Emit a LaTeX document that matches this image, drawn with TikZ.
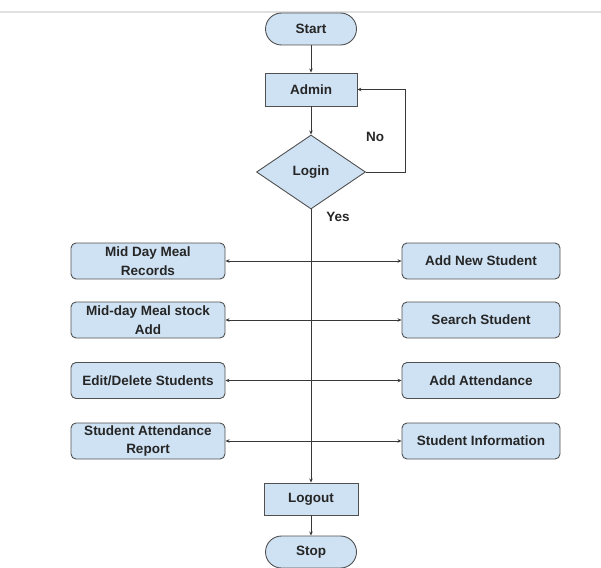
\documentclass[tikz,border=0pt]{standalone}
\usepackage{fontspec}
\setmainfont{Liberation Sans}
\usetikzlibrary{shapes.geometric,arrows.meta}
\definecolor{boxfill}{HTML}{CFE2F3}
\definecolor{boxline}{HTML}{505050}
\definecolor{wire}{HTML}{383838}
\tikzset{
  base/.style={draw=boxline, fill=boxfill, line width=0.9pt, text=black!85,
    font=\bfseries\fontsize{13.5}{18.5}\selectfont, align=center, inner sep=0pt},
  terminal/.style={base, rounded corners=16pt, minimum width=91pt, minimum height=32pt},
  process/.style={base, minimum width=92pt, minimum height=33pt},
  decision/.style={base, diamond, minimum width=109pt, minimum height=74pt},
  menuL/.style={base, rounded corners=5pt, minimum width=154pt, minimum height=36pt},
  menuR/.style={base, rounded corners=5pt, minimum width=158pt, minimum height=36pt},
  conn/.style={draw=wire, line width=0.8pt},
  tag/.style={font=\bfseries\fontsize{13.5}{16}\selectfont, text=black!85}
}
\begin{document}
\begin{tikzpicture}[x=1pt, y=-1pt, >={Stealth[length=4pt,width=3.5pt]}]
\useasboundingbox (0,0) rectangle (601,567);
\draw[black!12, line width=1.5pt] (0,12) -- (601,12);

%%% main column %%%
\node[terminal] (start) at (311,29) {Start};
\node[process] (admin) at (311,89.5) {Admin};
\node[decision] (login) at (311,172) {Login};
\node[process, minimum width=94pt, minimum height=32pt] (logout) at (311,499) {Logout};
\node[terminal] (stop) at (311,552) {Stop};

%%% left menu %%%
\node[menuL] (records) at (148,261) {Mid Day Meal\\Records};
\node[menuL] (stock) at (148,320) {Mid-day Meal stock\\Add};
\node[menuL] (edit) at (148,380.5) {Edit/Delete Students};
\node[menuL] (report) at (148,441) {Student Attendance\\Report};

%%% right menu %%%
\node[menuR] (newstu) at (481,261) {Add New Student};
\node[menuR] (search) at (481,320) {Search Student};
\node[menuR] (attend) at (481,380.5) {Add Attendance};
\node[menuR] (info) at (481,441) {Student Information};

%%% labels %%%
\node[tag] (no) at (375,137) {No};
\node[tag] (yes) at (338,217) {Yes};

%%% connectors %%%
\draw[conn,->] (start) -- (admin);
\draw[conn,->] (admin) -- (login);
\draw[conn,->] (login.east) -- ++(39,0) |- (admin.east);
\draw[conn,->] (login.south) -- (logout.north);
\draw[conn,->] (logout) -- (stop);
\draw[conn,<->] (records.east) -- (newstu.west);
\draw[conn,<->] (stock.east) -- (search.west);
\draw[conn,<->] (edit.east) -- (attend.west);
\draw[conn,<->] (report.east) -- (info.west);

\end{tikzpicture}
\end{document}
